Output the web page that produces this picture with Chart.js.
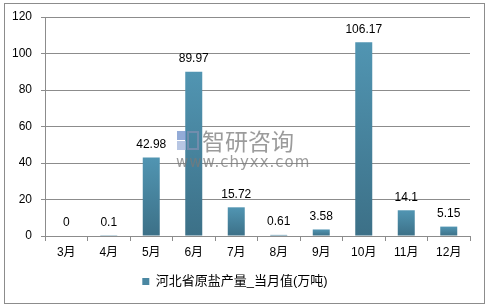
<!DOCTYPE html>
<html>
<head>
<meta charset="utf-8">
<script src="https://cdn.jsdelivr.net/npm/chart.js@4/dist/chart.umd.min.js"></script>
<style>
  html, body { margin: 0; padding: 0; background: #fff; }
  #wrap { position: relative; width: 488px; height: 305px; }
  #frame { position: absolute; left: 4px; top: 3px; width: 479px; height: 299px; border: 1px solid #8c8c8c; pointer-events: none; }
  canvas { position: absolute; left: 0; top: 0; }
</style>
</head>
<body>
<div id="wrap">
  <canvas id="chart" width="488" height="305"></canvas>
  <div id="frame"></div>
</div>
<script>
// data
const months = ["3月", "4月", "5月", "6月", "7月", "8月", "9月", "10月", "11月", "12月"];
const output = [0, 0.1, 42.98, 89.97, 15.72, 0.61, 3.58, 106.17, 14.1, 5.15];
const seriesName = "河北省原盐产量_当月值(万吨)";
const yTicks = [0, 20, 40, 60, 80, 100, 120];

const font = "'Liberation Sans', Arial, 'Noto Sans CJK SC', sans-serif";

function barFill(ctx) {
  const chart = ctx.chart;
  const y = chart.scales.y;
  if (!y || ctx.raw == null) return "#4a87a2";
  const top = y.getPixelForValue(ctx.raw);
  const base = y.getPixelForValue(0);
  if (!isFinite(top) || !isFinite(base) || base - top < 1) return "#4a87a2";
  const g = chart.ctx.createLinearGradient(0, top, 0, base);
  g.addColorStop(0, "#5195b2");
  g.addColorStop(1, "#3c7087");
  return g;
}

// value labels over the bars
const valueLabels = {
  id: "valueLabels",
  afterDatasetsDraw(chart) {
    const c = chart.ctx;
    const meta = chart.getDatasetMeta(0);
    c.save();
    c.font = "12px " + font;
    c.fillStyle = "#000";
    c.textAlign = "center";
    c.textBaseline = "middle";
    meta.data.forEach(function(bar, i) {
      c.fillText(String(output[i]), bar.x, bar.y - 13);
    });
    c.restore();
  }
};

// the site watermark in the middle
const watermark = {
  id: "watermark",
  afterDraw(chart) {
    const c = chart.ctx;
    c.save();
    c.globalAlpha = 0.75;
    c.fillStyle = "#6f8fc9";
    c.fillRect(177, 131, 9, 9);
    c.fillStyle = "#9fb3da";
    c.fillRect(177, 141, 9, 9);
    c.strokeStyle = "#7f8fb0";
    c.lineWidth = 2;
    c.strokeRect(188, 132, 10, 17);
    c.fillStyle = "#7a7a7a";
    c.font = "23px 'Noto Sans CJK SC', sans-serif";
    c.textBaseline = "middle";
    c.textAlign = "left";
    c.fillText("智研咨询", 202, 141);
    c.font = "15px 'DejaVu Sans', sans-serif";
    c.letterSpacing = "1px";
    c.fillText("www.chyxx.com", 176, 163);
    c.restore();
  }
};

new Chart(document.getElementById("chart"), {
  type: "bar",
  data: {
    labels: months,
    datasets: [{
      label: seriesName,
      data: output,
      backgroundColor: barFill,
      borderWidth: 0,
      categoryPercentage: 1,
      barPercentage: 0.4
    }]
  },
  options: {
    responsive: false,
    animation: false,
    layout: { padding: { left: 0, right: 18, top: 17, bottom: 7 } },
    plugins: {
      legend: {
        display: true,
        position: "bottom",
        labels: {
          boxWidth: 7,
          boxHeight: 7,
          padding: 10,
          color: "#000",
          font: { size: 13, family: font }
        }
      },
      tooltip: { enabled: false }
    },
    scales: {
      x: {
        afterFit: function(scale) { scale.height = 29; },
        grid: {
          drawOnChartArea: false,
          drawTicks: true,
          tickLength: 5,
          color: "#8c8c8c"
        },
        border: { color: "#8c8c8c" },
        ticks: { color: "#000", padding: 4, font: { size: 12, family: font } }
      },
      y: {
        min: 0,
        max: 120,
        afterFit: function(scale) { scale.width = 45; },
        afterBuildTicks: function(scale) {
          scale.ticks = yTicks.map(function(v) { return { value: v }; });
        },
        grid: { color: "#8c8c8c", tickLength: 4 },
        border: { color: "#8c8c8c" },
        ticks: { color: "#000", padding: 9, font: { size: 12, family: font } }
      }
    }
  },
  plugins: [valueLabels, watermark]
});
</script>
</body>
</html>
